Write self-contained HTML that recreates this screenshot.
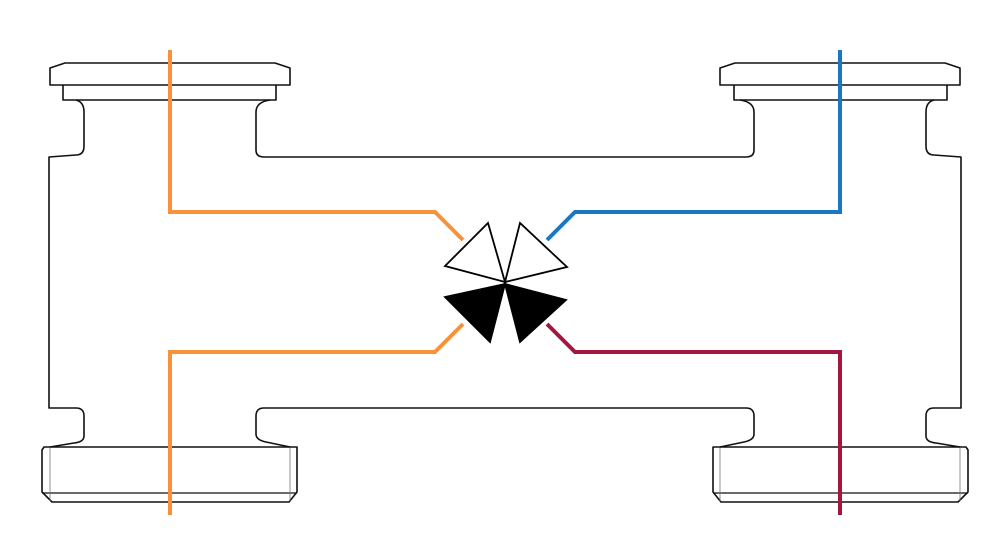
<!DOCTYPE html>
<html><head><style>html,body{margin:0;padding:0;background:#fff}svg{display:block}</style></head>
<body>
<svg width="1000" height="552" viewBox="0 0 1000 552" xmlns="http://www.w3.org/2000/svg">
<defs>
<g id="half" fill="none" stroke="#111" stroke-width="1.6" stroke-linejoin="round">
  <!-- top flange -->
  <path d="M65,63 L275,63 L290,68 L290,85 L50,85 L50,68 Z"/>
  <path d="M63,85 L63,100 L276,100 L276,85"/>
  <!-- body outline left part -->
  <path d="M76,100 Q84,102 84,112 L84,146 Q84,155 76,155 L49,157 L49,408 L76,408 Q84,408 84,416 L84,436 Q84,442 74,443 L50,447"/>
  <path d="M270,100 Q256,102 256,112 L256,150 Q256,157 264,157 L505,157"/>
  <path d="M505,408 L264,408 Q256,408 256,416 L256,434 Q256,440 266,442 L290,447"/>
  <!-- bottom flange -->
  <path d="M44,447 L297,447 L297,492 L289,502 L52,502 L42,492 L42,450 Z"/>
  <path d="M42,493 L297,493" stroke-width="1.3"/>
  <path d="M50,448 L50,501 M290,448 L290,501" stroke-width="0.8" stroke="#777"/>
</g>
</defs>
<use href="#half"/>
<use href="#half" transform="translate(1010,0) scale(-1,1)"/>
<g fill="none" stroke-width="4" stroke-linejoin="miter">
  <path d="M170,50 L170,212 L435,212 L463,240" stroke="#f7923a"/>
  <path d="M170,515 L170,352 L435,352 L463,324" stroke="#f7923a"/>
  <path d="M840,50 L840,212 L575,212 L547,240" stroke="#1a78c2"/>
  <path d="M840,515 L840,352 L575,352 L547,324" stroke="#a5163f"/>
</g>
<g stroke="#000" stroke-width="1.8" stroke-linejoin="miter">
  <path d="M505,282 L488,223 L445,266 Z" fill="#fff"/>
  <path d="M505,282 L520,223 L567,267 Z" fill="#fff"/>
  <path d="M505,284 L445,297 L490,342 Z" fill="#000"/>
  <path d="M505,284 L566,300 L520,342 Z" fill="#000"/>
</g>
</svg>
</body></html>
